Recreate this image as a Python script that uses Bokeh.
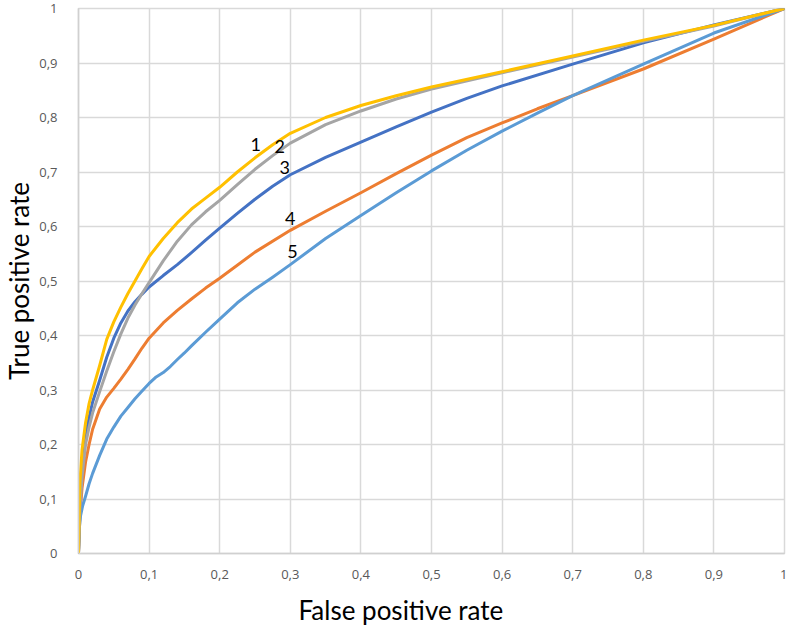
from bokeh.plotting import figure
from bokeh.models import Range1d, FixedTicker, CustomJSTickFormatter, ColumnDataSource, Title
from bokeh.core.properties import value
from bokeh.embed import file_html
from bokeh.resources import INLINE

# ---- data ----
TICKS = [0, 0.1, 0.2, 0.3, 0.4, 0.5, 0.6, 0.7, 0.8, 0.9, 1.0]

fpr_1 = [0, 0.002, 0.005, 0.01, 0.015, 0.02, 0.03, 0.04, 0.05, 0.06, 0.07, 0.08, 0.09, 0.1,
         0.12, 0.14, 0.16, 0.18, 0.2, 0.225, 0.25, 0.275, 0.3, 0.35, 0.4, 0.45, 0.5,
         0.6, 0.7, 0.8, 0.9, 1.0]
tpr_1 = [0, 0.13, 0.19, 0.24, 0.275, 0.30, 0.345, 0.393, 0.425, 0.452, 0.477, 0.50, 0.523, 0.545,
         0.578, 0.607, 0.632, 0.652, 0.672, 0.70, 0.726, 0.75, 0.771, 0.80, 0.822, 0.84, 0.856,
         0.884, 0.913, 0.942, 0.969, 1.0]

fpr_2 = [0, 0.002, 0.005, 0.01, 0.015, 0.02, 0.03, 0.04, 0.05, 0.06, 0.07, 0.08, 0.09, 0.1,
         0.12, 0.14, 0.16, 0.18, 0.2, 0.225, 0.25, 0.275, 0.3, 0.35, 0.4, 0.45, 0.5,
         0.6, 0.7, 0.8, 0.9, 1.0]
tpr_2 = [0, 0.08, 0.14, 0.20, 0.232, 0.258, 0.297, 0.335, 0.37, 0.403, 0.432, 0.456, 0.477, 0.497,
         0.537, 0.573, 0.603, 0.627, 0.648, 0.677, 0.705, 0.73, 0.753, 0.787, 0.812, 0.834, 0.852,
         0.882, 0.911, 0.94, 0.968, 1.0]

fpr_3 = [0, 0.002, 0.005, 0.01, 0.015, 0.02, 0.03, 0.04, 0.05, 0.06, 0.07, 0.08, 0.09, 0.1,
         0.12, 0.14, 0.16, 0.18, 0.2, 0.225, 0.25, 0.275, 0.3, 0.35, 0.4, 0.45, 0.5,
         0.55, 0.6, 0.7, 0.8, 0.9, 1.0]
tpr_3 = [0, 0.1, 0.16, 0.215, 0.25, 0.278, 0.318, 0.36, 0.395, 0.423, 0.445, 0.462, 0.476, 0.489,
         0.51, 0.53, 0.552, 0.575, 0.597, 0.624, 0.65, 0.674, 0.695, 0.727, 0.755, 0.783, 0.81,
         0.835, 0.858, 0.898, 0.937, 0.97, 1.0]

fpr_4 = [0, 0.002, 0.005, 0.01, 0.015, 0.02, 0.03, 0.04, 0.05, 0.06, 0.07, 0.08, 0.09, 0.1,
         0.12, 0.14, 0.16, 0.18, 0.2, 0.25, 0.3, 0.35, 0.4, 0.45, 0.5,
         0.55, 0.6, 0.65, 0.7, 0.8, 0.9, 1.0]
tpr_4 = [0, 0.07, 0.12, 0.168, 0.2, 0.228, 0.265, 0.287, 0.303, 0.32, 0.338, 0.357, 0.377, 0.395,
         0.423, 0.446, 0.467, 0.487, 0.505, 0.553, 0.593, 0.628, 0.662, 0.697, 0.731,
         0.763, 0.79, 0.816, 0.84, 0.889, 0.944, 1.0]

fpr_5 = [0, 0.001, 0.003, 0.006, 0.01, 0.015, 0.02, 0.03, 0.04, 0.05, 0.06, 0.07, 0.08, 0.09,
         0.1, 0.11, 0.12, 0.13, 0.14, 0.15, 0.16, 0.18, 0.2, 0.225, 0.25, 0.275, 0.3,
         0.35, 0.4, 0.45, 0.5, 0.55, 0.6, 0.65, 0.7, 0.8, 0.9, 1.0]
tpr_5 = [0, 0.045, 0.07, 0.088, 0.105, 0.128, 0.147, 0.18, 0.21, 0.232, 0.252, 0.268, 0.284, 0.298,
         0.312, 0.324, 0.332, 0.343, 0.356, 0.368, 0.381, 0.406, 0.43, 0.46, 0.485, 0.507, 0.53,
         0.578, 0.62, 0.662, 0.702, 0.74, 0.775, 0.808, 0.84, 0.898, 0.955, 1.0]

curve_names = ["1", "2", "3", "4", "5"]
curve_colors = ["#FFC000", "#A5A5A5", "#4472C4", "#ED7D31", "#5B9BD5"]
label_x = [0.251, 0.285, 0.292, 0.300, 0.303]
label_y = [0.750, 0.747, 0.709, 0.614, 0.555]

# ---- figure ----
p = figure(width=787, height=636, output_backend="svg", toolbar_location=None,
           x_range=Range1d(0, 1), y_range=Range1d(0, 1),
           min_border_left=78, min_border_right=3, min_border_top=8, min_border_bottom=83)
p.background_fill_color = "white"
p.border_fill_color = "white"
p.outline_line_color = "#D9D9D9"
p.outline_line_width = 1.5

fmt = CustomJSTickFormatter(code="return (Math.round(tick*10)/10).toString().replace('.', ',');")
for ax in (p.xaxis[0], p.yaxis[0]):
    ax.ticker = FixedTicker(ticks=TICKS)
    ax.formatter = fmt
    ax.major_tick_line_color = None
    ax.minor_tick_line_color = None
    ax.axis_line_color = "#D0D0D0"
    ax.axis_line_width = 1.5
    ax.major_label_text_font = "Open Sans"
    ax.major_label_text_font_size = "13px"
    ax.major_label_text_color = "#595959"
    ax.axis_label_text_font = "Lato"
    ax.axis_label_text_font_size = "26px"
    ax.axis_label_text_font_style = "normal"
    ax.axis_label_text_color = "black"

p.yaxis.axis_label = "True positive rate"
p.xaxis.major_label_standoff = 10
p.yaxis.major_label_standoff = 15
p.yaxis.axis_label_standoff = 1

xtitle = Title(text="False positive rate", align="left", offset=220,
               text_font="Lato", text_font_size="26px", text_font_style="normal",
               text_color="black", standoff=20)
p.add_layout(xtitle, "below")

for g in (p.xgrid[0], p.ygrid[0]):
    g.ticker = FixedTicker(ticks=TICKS)
    g.grid_line_color = "#D9D9D9"
    g.grid_line_width = 1.5

series = {
    "1": (fpr_1, tpr_1),
    "2": (fpr_2, tpr_2),
    "3": (fpr_3, tpr_3),
    "4": (fpr_4, tpr_4),
    "5": (fpr_5, tpr_5),
}
colors = dict(zip(curve_names, curve_colors))
for name in ["4", "5", "3", "2", "1"]:
    xs, ys = series[name]
    p.line(xs, ys, line_color=colors[name], line_width=3,
           line_join="round", line_cap="round")

lab = ColumnDataSource(dict(x=label_x, y=label_y, t=curve_names))
p.text(x="x", y="y", text="t", source=lab, text_font=value("Lato"),
       text_font_size="18px", text_color="black",
       text_align="center", text_baseline="middle")

open("out.html", "w").write(file_html(p, INLINE))
